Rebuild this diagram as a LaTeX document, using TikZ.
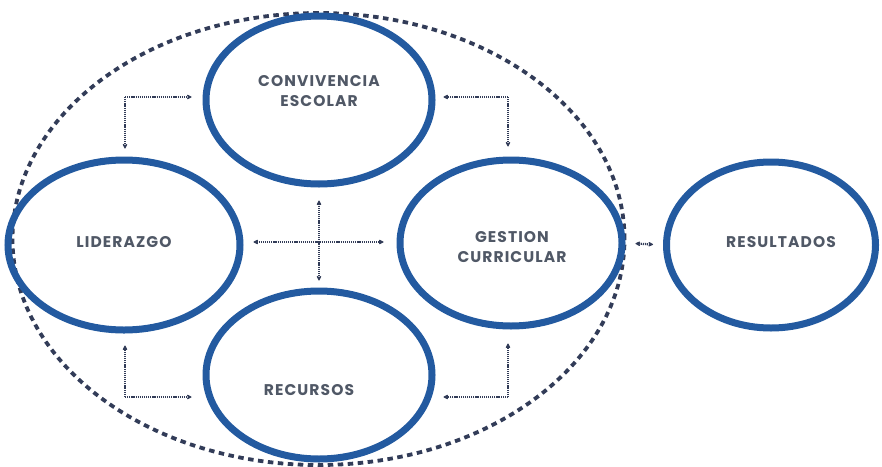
\documentclass[tikz,border=0pt]{standalone}
\usepackage{fontspec}
\setmainfont{Poppins}
\newfontfamily\rotulo[LetterSpace=7]{Poppins}
\definecolor{Azul}{RGB}{35, 90, 160}
\definecolor{Gris}{RGB}{80, 88, 102}
\definecolor{Marino}{RGB}{50, 60, 88}
\usepackage{tikz}
\usetikzlibrary{arrows.meta, shapes.geometric, calc}

\begin{document}
\begin{tikzpicture}[x=1pt, y=-1pt,
        ovalo/.style={draw=Azul, ellipse, line width=7pt, inner sep=0pt},
        texto/.style={font=\rotulo\fontsize{15.5}{20}\selectfont\bfseries, text=Gris, align=center},
        flecha/.style={Marino, line width=2.2pt, dash pattern=on 1.2pt off 0.9pt,
            -{Stealth[length=6pt, width=6pt, round]}, shorten >=9pt},
        doble/.style={flecha, {Stealth[length=6pt, width=6pt, round]}-{Stealth[length=6pt, width=6pt, round]}, shorten <=9pt},
        borde/.style={Marino, line width=3.8pt, dash pattern=on 5.5pt off 4.5pt}]
    \useasboundingbox (0,0) rectangle (882,466);

    % Borde punteado del sistema
    \draw[borde] (318.5,239) ellipse [x radius=306pt, y radius=226pt];

    % Ovalos
    \node[ovalo, minimum width=226pt, minimum height=168pt] (convivencia) at (319,100) {};
    \node[ovalo, minimum width=232pt, minimum height=170pt] (liderazgo) at (124,245) {};
    \node[ovalo, minimum width=222pt, minimum height=166pt] (gestion) at (511,243) {};
    \node[ovalo, minimum width=226pt, minimum height=168pt] (recursos) at (319,375) {};
    \node[ovalo, minimum width=209pt, minimum height=166pt] (resultados) at (771,245) {};

    % Textos
    \node[texto] (t-convivencia) at (319,91) {CONVIVENCIA\\ESCOLAR};
    \node[texto] (t-liderazgo) at (124,242) {LIDERAZGO};
    \node[texto] (t-gestion) at (512,247) {GESTION\\CURRICULAR};
    \node[texto] (t-recursos) at (309,390) {RECURSOS};
    \node[texto] (t-resultados) at (781,242) {RESULTADOS};

    % Esquinas de las flechas
    \coordinate (esqA) at (125,97);
    \coordinate (esqB) at (508,97);
    \coordinate (esqC) at (125,397);
    \coordinate (esqD) at (508,397);
    \coordinate (cruce) at (318,242);

    \draw[flecha, shorten >=11pt] (esqA) -- (esqA -| convivencia.west);
    \draw[flecha, shorten >=8pt] (esqA) -- (esqA |- liderazgo.north);
    \draw[flecha, shorten >=8pt] (esqB) -- (esqB -| convivencia.east);
    \draw[flecha, shorten >=10pt] (esqB) -- (esqB |- gestion.north);
    \draw[flecha, shorten >=12pt] (esqC) -- (esqC |- liderazgo.south);
    \draw[flecha, shorten >=11pt] (esqC) -- (esqC -| recursos.west);
    \draw[flecha, shorten >=14pt] (esqD) -- (esqD |- gestion.south);
    \draw[flecha, shorten >=8pt] (esqD) -- (esqD -| recursos.east);

    % Cruz central
    \draw[doble, shorten <=10pt, shorten >=13pt] (cruce -| liderazgo.east) -- (cruce -| gestion.west);
    \draw[doble, shorten <=13pt, shorten >=7pt] (convivencia.south) -- (recursos.north);

    % Hacia resultados
    \draw[doble, shorten <=10pt, shorten >=10pt] (gestion.east) -- (resultados.west);
\end{tikzpicture}
\end{document}
